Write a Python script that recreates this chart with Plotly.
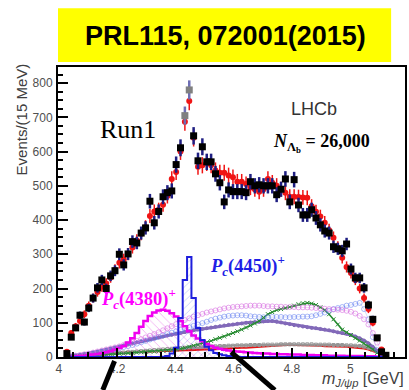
import numpy as np
import plotly.graph_objects as go

# ---- data (15 MeV bins) ----
BIN_FIRST = 4.0275
BIN_WIDTH = 0.015

data_counts = [10,58,85,122,102,143,172,202,225,200,237,252,300,269,301,337,333,362,377,455,
               392,425,468,480,485,562,611,705,780,646,573,614,570,570,535,509,453,488,483,483,
               483,480,512,500,503,500,500,500,474,490,520,453,518,444,415,415,430,406,386,368,
               362,322,316,310,330,257,231,231,202,152,110,56,15,5]
grey_idx = [27, 28]

fit_counts = [15,70,90,105,125,150,172,190,205,215,232,255,275,285,300,320,340,360,380,412,
              425,430,445,470,520,540,600,687,748,640,556,560,567,560,545,538,538,530,525,512,
              512,505,495,490,483,490,520,509,500,490,480,468,468,467,466,465,440,424,410,392,
              370,348,320,290,263,245,225,200,172,140,100,55,22,6]

pc4450 = [0,0,0,0,0,0,0,0,0,0,0,0,0,0,0,0,0,0,0,0,
          0,0,1,3,10,27,114,225,292,172,85,50,30,20,12,8,5,3,2,1,
          0,0,0,0,0,0,0,0,0,0,0,0,0,0,0,0,0,0,0,0,
          0,0,0,0,0,0,0,0,0,0,0,0,0,0]

pc4380 = [0,1,2,3,4,5,7,9,11,14,17,21,26,32,42,55,70,88,105,120,
          130,136,138,135,128,118,105,90,75,63,54,46,38,32,27,24,21,19,17,16,
          15,14,13,12,11,10,10,9,9,8,8,7,7,7,6,6,6,5,5,5,
          4,4,4,4,3,3,3,3,2,2,2,1,1,0]

comp_pink = [0,2,4,6,8,10,13,16,19,22,25,28,31,35,39,43,47,52,57,62,
             67,72,78,84,90,96,102,108,113,118,122,126,130,133,136,139,142,144,146,147,
             148,149,150,150,150,149,148,148,147,147,146,146,146,145,145,145,144,143,142,141,
             140,139,138,137,135,132,127,120,110,95,70,42,15,4]

comp_blue = [0,1,3,4,6,8,10,12,15,17,20,23,26,29,32,35,39,43,47,51,
             55,59,63,67,71,75,79,83,87,91,95,99,103,108,112,115,118,120,121,122,
             122,121,119,118,117,116,116,117,117,117,116,116,117,117,118,118,119,122,126,130,
             135,140,143,146,150,152,155,158,140,110,58,20,5,0]

comp_green = [0,1,2,3,4,4,5,6,7,7,8,9,10,10,11,12,13,14,15,16,
              16,17,18,19,20,22,24,27,30,33,36,40,43,47,52,56,60,65,70,75,
              80,86,92,98,105,115,125,131,137,140,143,146,150,154,157,158,156,152,145,137,
              125,110,95,80,72,64,55,48,40,32,22,12,5,1]

comp_purple = [0,2,4,6,8,10,13,16,19,22,25,28,31,34,37,40,43,46,49,52,
               55,58,60,63,65,68,70,73,75,78,80,82,84,86,88,90,92,94,95,97,
               98,100,101,102,103,104,105,105,103,101,98,96,93,91,89,87,85,84,82,80,
               78,75,72,70,68,64,60,55,48,40,30,18,7,2]

comp_grey = [0,1,2,3,4,5,6,7,8,9,10,11,12,13,14,15,16,17,18,19,
             20,21,22,23,24,25,26,27,28,28,29,30,30,31,31,32,32,33,33,34,
             34,34,35,35,35,36,36,36,36,37,37,37,37,37,37,37,37,36,36,36,
             36,35,35,35,34,34,33,32,30,27,22,15,7,2]

comp_bkg = [1,2,3,4,5,6,7,8,9,10,11,12,12,13,14,14,15,15,16,16,
            17,17,18,18,19,19,19,20,20,21,21,22,22,23,23,24,24,25,25,26,
            27,27,28,29,30,31,32,33,34,35,36,36,35,35,34,34,33,33,33,32,
            32,31,31,30,30,29,28,27,25,22,18,13,7,2]

x_tick_vals = [4.0, 4.2, 4.4, 4.6, 4.8, 5.0]
x_tick_text = ["4", "4.2", "4.4", "4.6", "4.8", "5"]
y_tick_vals = [0, 100, 200, 300, 400, 500, 600, 700, 800]
y_tick_text = ["0", "100", "200", "300", "400", "500", "600", "700", "800"]

x = BIN_FIRST + BIN_WIDTH * np.arange(len(data_counts))
data_arr = np.array(data_counts, dtype=float)
main_idx = [i for i in range(len(data_counts)) if i not in grey_idx]

fig = go.Figure()

def line_comp(y, color, width, symbol=None, msize=4, dash=None):
    mode = "lines+markers" if symbol else "lines"
    fig.add_trace(go.Scatter(
        x=x, y=y, mode=mode,
        line=dict(color=color, width=width, dash=dash),
        marker=dict(symbol=symbol or "circle", size=msize, color=color,
                    line=dict(color=color, width=1)),
        showlegend=False, hoverinfo="skip"))

line_comp(comp_bkg, "rgb(230,20,20)", 2.2)
line_comp(comp_grey, "rgb(150,150,150)", 2, symbol="square-open", msize=3)
line_comp(comp_purple, "rgb(130,105,185)", 3, symbol="circle", msize=3)
line_comp(comp_green, "rgb(40,140,50)", 1.5, symbol="x-thin", msize=4)
line_comp(comp_blue, "rgba(90,120,240,0.5)", 0.5, symbol="circle-open", msize=5)
line_comp(comp_pink, "rgba(215,110,225,0.6)", 0.5, symbol="circle-open", msize=5)

# Pc(4380)+ histogram
fig.add_trace(go.Scatter(
    x=x, y=pc4380, mode="lines", line=dict(color="rgb(240,0,240)", width=2.5, shape="hvh"),
    fill="tozeroy", fillcolor="rgba(240,0,240,0.05)",
    fillpattern=dict(shape="\\", fgcolor="rgba(220,60,220,0.8)", bgcolor="rgba(0,0,0,0)",
                     size=6, solidity=0.15),
    showlegend=False, hoverinfo="skip"))

# Pc(4450)+ histogram
fig.add_trace(go.Scatter(
    x=x, y=pc4450, mode="lines", line=dict(color="rgb(30,30,220)", width=2, shape="hvh"),
    fill="tozeroy", fillcolor="rgba(120,140,255,0.1)",
    fillpattern=dict(shape="/", fgcolor="rgba(90,110,240,0.8)", bgcolor="rgba(0,0,0,0)",
                     size=5, solidity=0.15),
    showlegend=False, hoverinfo="skip"))

# fit (red)
fig.add_trace(go.Scatter(
    x=x, y=fit_counts, mode="markers",
    marker=dict(symbol="circle", size=6, color="rgb(240,20,20)"),
    error_y=dict(type="sqrt", color="rgb(240,20,20)", thickness=1.5, width=0),
    showlegend=False, hoverinfo="skip"))

# data (black squares, navy error bars)
fig.add_trace(go.Scatter(
    x=x[main_idx], y=data_arr[main_idx], mode="markers",
    marker=dict(symbol="square", size=7, color="black"),
    error_y=dict(type="sqrt", color="rgb(30,30,130)", thickness=2.5, width=0),
    showlegend=False, hoverinfo="skip"))
fig.add_trace(go.Scatter(
    x=x[grey_idx], y=data_arr[grey_idx], mode="markers",
    marker=dict(symbol="square", size=7, color="rgb(128,128,128)"),
    error_y=dict(type="sqrt", color="rgb(110,110,180)", thickness=2.5, width=0),
    showlegend=False, hoverinfo="skip"))

tickfont = dict(family="Liberation Sans, Arial", size=12, color="#505050")
fig.update_xaxes(range=[3.997, 5.188], tickvals=x_tick_vals, ticktext=x_tick_text,
                 ticks="inside", ticklen=9, tickwidth=2, tickcolor="black",
                 minor=dict(ticks="inside", ticklen=5, tickwidth=1.5, tickcolor="black", dtick=0.05),
                 showline=True, linecolor="black", linewidth=2, mirror=True,
                 showgrid=False, zeroline=False, tickfont=tickfont, ticklabelstandoff=0)
fig.update_yaxes(range=[0, 847], tickvals=y_tick_vals, ticktext=y_tick_text,
                 ticks="inside", ticklen=10, tickwidth=2, tickcolor="black",
                 minor=dict(ticks="inside", ticklen=5, tickwidth=1.5, tickcolor="black", dtick=25),
                 showline=True, linecolor="black", linewidth=2, mirror=True,
                 showgrid=False, zeroline=False, tickfont=tickfont, ticklabelstandoff=1)

shapes = [
    dict(type="rect", xref="paper", yref="paper", x0=0.0, x1=0.96, y0=1.017, y1=1.203,
         fillcolor="rgb(255,255,0)", line=dict(width=0), layer="below"),
    dict(type="line", xref="paper", yref="paper", x0=0.163, y0=-0.014, x1=0.129, y1=-0.114,
         line=dict(color="black", width=5)),
    dict(type="line", xref="paper", yref="paper", x0=0.499, y0=0.017, x1=0.625, y1=-0.114,
         line=dict(color="black", width=5)),
]

def ann(text, x, y, size, family, color, **kw):
    d = dict(text=text, x=x, y=y, xref="paper", yref="paper", showarrow=False,
             xanchor="center", yanchor="middle",
             font=dict(family=family, size=size, color=color))
    d.update(kw)
    return d

SANS = "Liberation Sans, Arial"
SERIF = "Liberation Serif, Times New Roman"
annotations = [
    ann("<b>PRL115, 072001(2015)</b>", 0.484, 1.107, 27, SANS, "black"),
    ann("Events/(15 MeV)", -0.106, 0.82, 15, SANS, "#404040", textangle=-90),
    ann("<i>m</i><sub><i>J/ψp</i></sub> [GeV]", 1.003, -0.079, 16, SANS, "#404040", xanchor="right"),
    ann("Run1", 0.201, 0.783, 26, SERIF, "black"),
    ann("LHCb", 0.739, 0.855, 18, SANS, "#333333"),
    ann("<b><i>N</i><sub>Λ<sub>b</sub></sub> = 26,000</b>", 0.759, 0.738, 18, SERIF, "black"),
    ann("<b><i>P</i><sub><i>c</i></sub>(4450)<sup>+</sup></b>", 0.545, 0.314, 18.5, SERIF, "rgb(30,30,230)"),
    ann("<b><i>P</i><sub><i>c</i></sub>(4380)<sup>+</sup></b>", 0.232, 0.203, 18.5, SERIF, "rgb(255,0,255)"),
]

fig.update_layout(width=409, height=390, margin=dict(l=58, r=2, t=67, b=33),
                  paper_bgcolor="white", plot_bgcolor="white",
                  shapes=shapes, annotations=annotations, showlegend=False)

fig.write_html("out.html")
